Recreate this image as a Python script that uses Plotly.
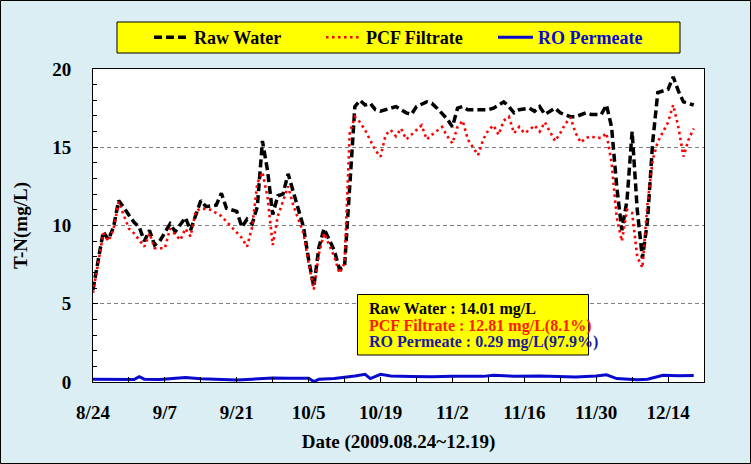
import plotly.graph_objects as go
from datetime import date, timedelta

START = date(2009, 8, 24)

# Raw Water (days since 2009-08-24, T-N mg/L)
raw_days = [0, 2, 3, 4, 5, 6, 7, 8, 9, 10, 11, 12, 13, 15, 16, 18, 19, 20, 21, 22, 24, 25, 26, 28,
            29, 30, 31, 32, 33, 34, 35, 36, 37, 38, 39, 41, 42, 43, 44, 45, 47, 48, 49, 51, 52,
            53, 54, 55, 56, 58, 59, 61, 62, 63, 65, 66, 67, 69, 70, 71, 72, 73, 75, 77, 78, 80,
            81, 82, 83, 85, 86, 87, 88, 90, 91, 93, 94, 96, 97, 99, 100, 101, 102, 103, 104, 105,
            106, 107, 108, 109, 110, 111, 112, 113, 114, 115, 116, 117]
raw_vals = [5.9, 9.6, 9.1, 9.9, 11.6, 11.1, 10.6, 10.2, 9.9, 9.0, 9.7, 8.75, 9.0, 10.1, 9.6, 10.5,
            9.7, 10.6, 11.6, 11.2, 11.3, 12.06, 11.1, 10.9, 9.9, 10.4, 10.1, 11.2, 15.4, 13.5, 10.7,
            11.9, 12.0, 13.3, 12.1, 9.9, 7.8, 6.1, 8.6, 9.8, 8.4, 7.2, 7.4, 17.6, 18.0, 17.7, 17.8,
            17.4, 17.3, 17.5, 17.6, 17.2, 17.1, 17.6, 17.9, 17.8, 17.5, 16.8, 16.3, 17.5, 17.6,
            17.4, 17.4, 17.4, 17.5, 17.9, 17.6, 17.2, 17.4, 17.5, 17.3, 17.6, 17.1, 17.5, 17.2,
            16.95, 16.95, 17.2, 17.1, 17.1, 17.7, 16.3, 12.5, 9.7, 11.6, 16.0, 11.0, 7.9, 10.3,
            15.3, 18.5, 18.6, 18.7, 19.5, 18.6, 17.9, 17.8, 17.7]

# PCF Filtrate
pcf_days = [0, 2, 3, 4, 5, 6, 7, 8, 10, 11, 12, 14, 15, 17, 18, 19, 20, 21, 23, 25, 27, 29, 30,
            31, 32, 33, 34, 35, 36, 37, 38, 39, 41, 42, 43, 44, 45, 47, 48, 49, 50, 51, 52, 53,
            55, 56, 57, 58, 59, 60, 61, 62, 64, 65, 66, 68, 69, 70, 71, 72, 73, 75, 76, 77, 78,
            79, 80, 81, 82, 83, 84, 85, 86, 87, 88, 90, 91, 92, 93, 94, 95, 96, 97, 98, 99, 100,
            101, 102, 103, 104, 105, 106, 107, 108, 109, 110, 111, 112, 113, 114, 115, 116, 117]
pcf_vals = [5.7, 9.5, 9.0, 9.8, 11.5, 10.6, 9.8, 9.5, 8.65, 9.5, 8.55, 8.55, 9.8, 9.07, 9.8, 9.3,
            10.9, 11.1, 11.0, 10.6, 9.9, 9.2, 8.65, 9.9, 12.7, 13.4, 11.8, 8.75, 10.6, 11.6, 12.5,
            11.3, 9.5, 7.6, 5.9, 8.2, 9.5, 8.0, 6.95, 7.6, 15.9, 16.95, 16.6, 16.1, 14.8, 14.4,
            15.8, 16.1, 15.7, 16.2, 15.5, 15.8, 16.4, 15.5, 15.8, 16.3, 15.7, 15.25, 16.3, 16.7,
            15.5, 14.5, 15.5, 16.1, 16.4, 15.8, 16.7, 16.95, 15.9, 16.3, 15.9, 16.1, 16.4, 16.0,
            16.6, 15.4, 15.9, 16.5, 16.9, 15.9, 15.3, 15.6, 15.7, 15.6, 15.6, 15.9, 14.0, 10.5,
            9.0, 11.0, 10.8, 8.0, 7.3, 11.4, 14.2, 15.35, 16.0, 16.6, 17.7, 16.3, 14.4, 15.5, 16.2]

# RO Permeate
ro_days = [0, 3, 6, 8, 9, 10, 13, 16, 18, 21, 24, 28, 31, 35, 38, 42, 43, 44, 47, 49, 51, 53, 54,
           56, 58, 62, 66, 70, 73, 76, 78, 82, 87, 91, 94, 98, 100, 102, 104, 106, 108, 110, 111,
           114, 117]
ro_vals = [0.18, 0.17, 0.18, 0.16, 0.34, 0.18, 0.16, 0.24, 0.28, 0.2, 0.16, 0.13, 0.18, 0.26,
           0.24, 0.24, 0.03, 0.17, 0.22, 0.28, 0.38, 0.49, 0.22, 0.49, 0.38, 0.35, 0.33, 0.36,
           0.38, 0.36, 0.43, 0.37, 0.38, 0.35, 0.32, 0.38, 0.46, 0.22, 0.18, 0.15, 0.18, 0.35,
           0.43, 0.4, 0.42]

tick_days = [0, 14, 28, 42, 56, 70, 84, 98, 112]
tick_labels = ["8/24", "9/7", "9/21", "10/5", "10/19", "11/2", "11/16", "11/30", "12/14"]

summary_lines = ["Raw Water : 14.01 mg/L",
                 "PCF Filtrate : 12.81 mg/L(8.1%)",
                 "RO Permeate : 0.29 mg/L(97.9%)"]
summary_colors = ["#000000", "#FF1A00", "#1A1AA0"]


def to_dates(days):
    return [(START + timedelta(days=d)).isoformat() for d in days]


FONT = "Liberation Serif"

fig = go.Figure()
fig.add_trace(go.Scatter(x=to_dates(raw_days), y=raw_vals, mode="lines", name="Raw Water",
                         line=dict(color="black", width=3.5, dash="8px,4px")))
fig.add_trace(go.Scatter(x=to_dates(pcf_days), y=pcf_vals, mode="lines", name="PCF Filtrate",
                         line=dict(color="#FF0000", width=2.6, dash="2.5px,3.5px")))
fig.add_trace(go.Scatter(x=to_dates(ro_days), y=ro_vals, mode="lines",
                         name="<span style='color:#0A0ACF'>RO Permeate</span>",
                         line=dict(color="#0A0ACF", width=3)))

# legend box
fig.add_shape(type="rect", xref="paper", yref="paper",
              x0=(117 - 93) / 611, x1=(680 - 93) / 611,
              y0=(382 - 53) / 313, y1=(382 - 22) / 313,
              fillcolor="#FFFF00", line=dict(color="black", width=1), layer="below")
# summary box
fig.add_shape(type="rect", xref="paper", yref="paper",
              x0=(357.5 - 93) / 611, x1=(588.5 - 93) / 611,
              y0=(382 - 355) / 313, y1=(382 - 294.5) / 313,
              fillcolor="#FFFF00", line=dict(color="black", width=1), layer="above")
line_py = [308.5, 325.5, 342]
for txt, col, py in zip(summary_lines, summary_colors, line_py):
    fig.add_annotation(text=txt, xref="paper", yref="paper", x=(367 - 93) / 611,
                       y=(382 - py) / 313, xanchor="left", yanchor="middle", showarrow=False,
                       font=dict(family=FONT, size=16, color=col, weight="bold"))
# outer border
fig.add_shape(type="rect", xref="paper", yref="paper",
              x0=(0.5 - 93) / 611, x1=(750.5 - 93) / 611,
              y0=(382 - 463.5) / 313, y1=(382 - 0.5) / 313,
              line=dict(color="black", width=1), fillcolor="rgba(0,0,0,0)")

fig.update_layout(
    width=751, height=464,
    margin=dict(l=93, r=47, t=69, b=82),
    paper_bgcolor="#DAEEF3", plot_bgcolor="white",
    font=dict(family=FONT, size=19, color="black", weight="bold"),
    showlegend=True,
    legend=dict(orientation="h", x=(149 - 93) / 611, xanchor="left",
                y=(382 - 37.5) / 313, yanchor="middle",
                bgcolor="rgba(0,0,0,0)", borderwidth=0, itemwidth=35,
                font=dict(family=FONT, size=18, color="black", weight="bold"),
                entrywidth=122, entrywidthmode="pixels", tracegroupgap=0),
)

fig.update_xaxes(
    type="date", range=[START.isoformat(), (START + timedelta(days=119)).isoformat()],
    tickmode="array", tickvals=to_dates(tick_days), ticktext=tick_labels,
    ticks="inside", ticklen=5, tickcolor="black", ticklabelstandoff=13,
    minor=dict(tickmode="linear", tick0=to_dates([7])[0], dtick=14 * 86400000,
               ticks="inside", ticklen=5, tickcolor="black"),
    showline=True, linecolor="black", linewidth=1, mirror=True, showgrid=False,
    tickfont=dict(family=FONT, size=19, color="black", weight="bold"),
    title=dict(text="Date (2009.08.24~12.19)", standoff=12,
               font=dict(family=FONT, size=19, color="black", weight="bold")),
)
fig.update_yaxes(
    range=[0, 20], tickmode="linear", tick0=0, dtick=5,
    ticks="inside", ticklen=5, tickcolor="black", ticklabelstandoff=17,
    minor=dict(dtick=1, ticks="inside", ticklen=4, tickcolor="black", showgrid=False),
    showline=True, linecolor="black", linewidth=1, mirror=True,
    showgrid=True, gridcolor="#808080", gridwidth=1, griddash="4px,3px", zeroline=False,
    tickfont=dict(family=FONT, size=19, color="black", weight="bold"),
    title=dict(text="T-N(mg/L)", standoff=19,
               font=dict(family=FONT, size=19, color="black", weight="bold")),
)

fig.write_html("out.html", config={"displayModeBar": False},
               post_script="document.body.style.margin='0';document.body.style.padding='0';")
